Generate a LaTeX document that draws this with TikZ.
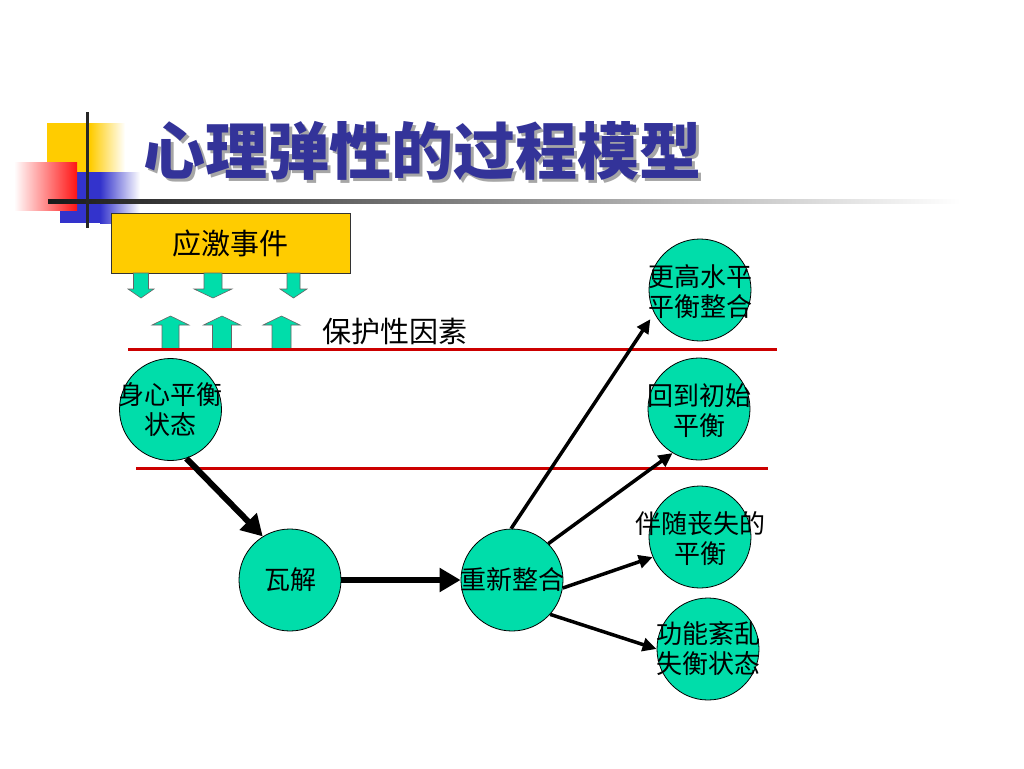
\documentclass[tikz,border=0pt]{standalone}
\usepackage{fontspec}
\setmainfont{Noto Sans CJK SC}
\usetikzlibrary{arrows.meta}
\definecolor{tealg}{RGB}{0,221,170}
\definecolor{boxy}{RGB}{255,204,0}
\definecolor{titleblue}{RGB}{51,51,153}
\definecolor{lred}{RGB}{204,0,0}
\definecolor{decoblue}{RGB}{51,51,204}
\definecolor{decored}{RGB}{255,20,20}
\newcommand{\shadowtitle}[1]{\rlap{\hspace{3pt}\raisebox{-3pt}{\textcolor{black!35}{#1}}}\textcolor{titleblue}{#1}}
\begin{document}
\begin{tikzpicture}[x=1pt,y=-1pt,
  ball/.style={circle, draw=black, line width=0.8pt, fill=tealg, minimum size=102pt, inner sep=0pt},
  balltext/.style={align=center, inner sep=0pt, font=\fontsize{26}{30}\selectfont},
  conn/.style={line width=3.5pt, -{Triangle[length=14pt,width=13pt]}},
  bigconn/.style={line width=6pt, -{Triangle[length=21pt,width=23pt]}},
  blockarrow/.style={fill=tealg, draw=black!60, line width=0.6pt},
  redline/.style={draw=lred, line width=3pt}]
\useasboundingbox (0,0) rectangle (1024,768);
\fill[white] (0,0) rectangle (1024,768);
% decoration
\fill[boxy] (47,123) rectangle (90,172);
\shade[left color=boxy, right color=white] (90,123) rectangle (125,172);
\fill[decoblue] (60,172) rectangle (100,223);
\shade[left color=decoblue, right color=white] (100,172) rectangle (140,223);
\shade[left color=white, right color=decored] (14,162) rectangle (77,210);
\shade[left color=black!90, middle color=black!45, right color=white] (48,199) rectangle (960,203);
\draw[line width=3pt, black!85] (87,112) -- (87,228);
% title
\node[font=\fontsize{62}{70}\selectfont\bfseries, inner sep=0pt] (title) at (422,152) {\shadowtitle{心理弹性的过程模型}};
% event box
\node[draw=black!80, line width=0.8pt, fill=boxy, minimum width=239pt, minimum height=60pt, inner sep=0pt,
      font=\fontsize{29}{34}\selectfont] (event) at (230.5,243) {应激事件};
% block arrows down
\foreach \c/\w/\h in {141/7.5/13, 213/9/19, 293.5/6.5/13.5}
  \draw[blockarrow] ({\c-\w},273) -- ({\c+\w},273) -- ({\c+\w},289) -- ({\c+\h},289) -- (\c,298) -- ({\c-\h},289) -- ({\c-\w},289) -- cycle;
% block arrows up
\foreach \c/\w/\h in {170.5/8.5/18.5, 222/9.5/18.5, 281.5/9.5/18.5}
  \draw[blockarrow] ({\c-\w},349) -- ({\c+\w},349) -- ({\c+\w},325) -- ({\c+\h},325) -- (\c,316) -- ({\c-\h},325) -- ({\c-\w},325) -- cycle;
\node[font=\fontsize{29}{34}\selectfont] (prot) at (395,331) {保护性因素};
% red lines
\draw[redline] (128,349) -- (777,349);
\draw[redline] (136,468) -- (768,468);
% circles
\node[ball] (sx) at (170.5,409.5) {};
\node[ball] (wj) at (290,580) {};
\node[ball] (cx) at (512,580) {};
\node[ball] (gg) at (700,290) {};
\node[ball] (hd) at (699,409) {};
\node[ball] (bs) at (700,537) {};
\node[ball] (gn) at (708,649) {};
\node[balltext] (sxt) at (sx.center) {身心平衡\\状态};
\node[balltext] (wjt) at (wj.center) {瓦解};
\node[balltext] (cxt) at (cx.center) {重新整合};
\node[balltext] (ggt) at ([yshift=-2pt]gg.center) {更高水平\\平衡整合};
\node[balltext] (hdt) at ([yshift=-2pt]hd.center) {回到初始\\平衡};
\node[balltext] (bst) at ([yshift=-2pt]bs.center) {伴随丧失的\\平衡};
\node[balltext] (gnt) at (gn.center) {功能紊乱\\失衡状态};
% connectors
\draw[bigconn] (sx.-72) -- (wj.122);
\draw[bigconn] (wj.east) -- (cx.west);
\draw[conn, shorten >=7pt] (cx.91) -- (gg.207);
\draw[conn] (cx.45) -- (hd.239);
\draw[conn] (cx.-9) -- (bs.203);
\draw[conn] (cx.-42) -- (gn.180);
\end{tikzpicture}
\end{document}
